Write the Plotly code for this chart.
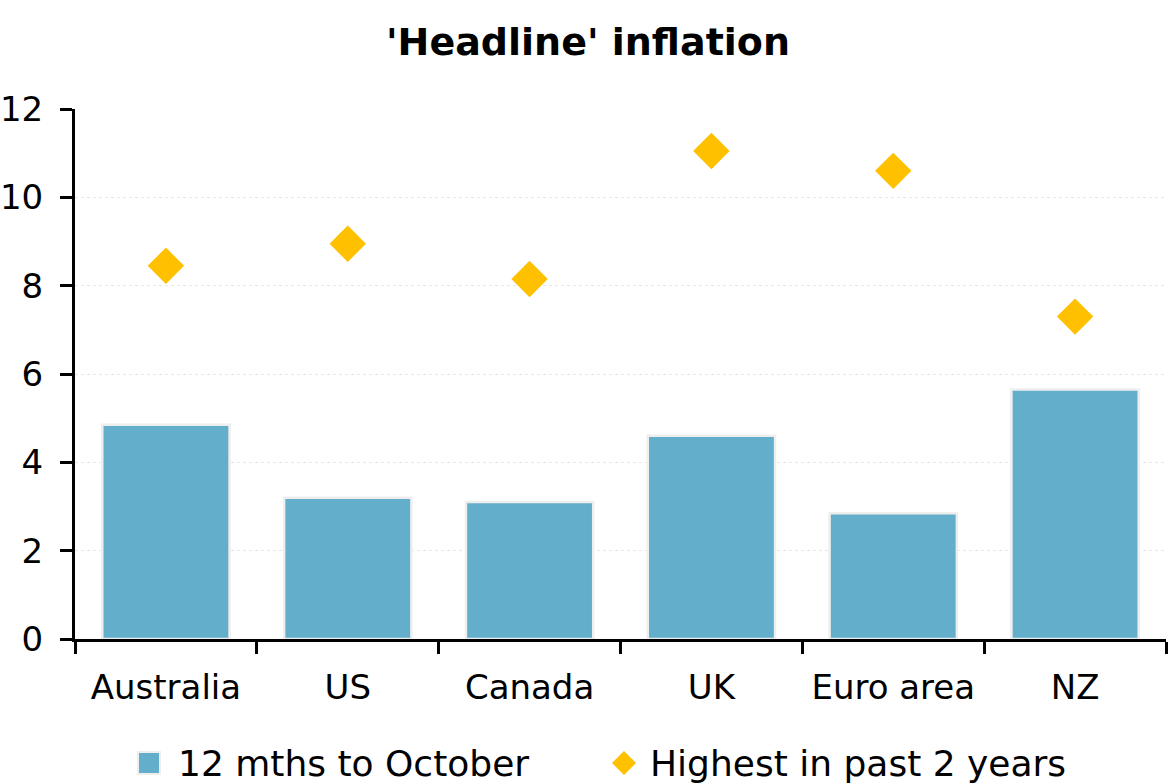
import plotly.graph_objects as go

countries = ["Australia", "US", "Canada", "UK", "Euro area", "NZ"]
latest_12m = [4.85, 3.2, 3.1, 4.6, 2.85, 5.65]
peak_2y = [8.45, 8.95, 8.15, 11.05, 10.6, 7.3]
y_ticks = [0, 2, 4, 6, 8, 10, 12]
series_names = ["12 mths to October", "Highest in past 2 years"]

FONT = "DejaVu Sans"
BAR_COLOR = "#62AECB"
DIAMOND_COLOR = "#FFC000"

W, H = 1176, 784
L, R, T, B = 75, 10, 109, 145
PW, PH = W - L - R, H - T - B


def px_x(px):
    return (px - L) / PW


def px_y(py):
    return (H - B - py) / PH


fig = go.Figure()
fig.add_trace(go.Bar(
    x=countries, y=latest_12m, name=series_names[0], showlegend=False,
    marker=dict(color=BAR_COLOR, line=dict(color="#EEEEEE", width=2.5)),
    width=0.7,
))
fig.add_trace(go.Scatter(
    x=countries, y=peak_2y, name=series_names[1], mode="markers",
    showlegend=False,
    marker=dict(symbol="diamond", color=DIAMOND_COLOR, size=28),
))

# manual legend (symbols + labels)
ly = 763
shapes = [
    dict(type="rect", xref="paper", yref="paper",
         x0=px_x(138), x1=px_x(160), y0=px_y(774), y1=px_y(752),
         fillcolor=BAR_COLOR, line=dict(color="#EEEEEE", width=2)),
    dict(type="path", xref="paper", yref="paper",
         path=(f"M {px_x(612)} {px_y(ly)} L {px_x(624)} {px_y(ly - 12)} "
               f"L {px_x(636)} {px_y(ly)} L {px_x(624)} {px_y(ly + 12)} Z"),
         fillcolor=DIAMOND_COLOR, line=dict(width=0)),
]
annotations = [
    dict(text=series_names[0], xref="paper", yref="paper", x=px_x(176), y=px_y(ly),
         xanchor="left", yanchor="middle", showarrow=False,
         font=dict(family=FONT, size=36, color="black")),
    dict(text=series_names[1], xref="paper", yref="paper", x=px_x(648), y=px_y(ly),
         xanchor="left", yanchor="middle", showarrow=False,
         font=dict(family=FONT, size=36, color="black")),
]

fig.update_layout(
    width=W, height=H,
    paper_bgcolor="white", plot_bgcolor="white",
    margin=dict(l=L, r=R, t=T, b=B, autoexpand=False),
    title=dict(text="<b>'Headline' inflation</b>", x=0.5, xanchor="center",
               y=0.947, yanchor="middle",
               font=dict(family=FONT, size=38, color="black")),
    font=dict(family=FONT, size=34, color="black"),
    showlegend=False,
    shapes=shapes,
    annotations=annotations,
    bargap=0.3,
)
fig.update_xaxes(
    type="category", showline=True, linecolor="black", linewidth=3,
    ticks="outside", tickson="boundaries", ticklen=12, tickwidth=2.5, tickcolor="black",
    showgrid=False, tickfont=dict(size=34), ticklabelstandoff=16, automargin=False,
)
fig.update_yaxes(
    range=[0, 12], tickvals=y_ticks, showline=True, linecolor="black", linewidth=3,
    ticks="outside", ticklen=12, tickwidth=2.5, tickcolor="black",
    showgrid=True, gridcolor="#E6E6E6", gridwidth=1, griddash="dot",
    zeroline=False, tickfont=dict(size=34), ticklabelstandoff=10, automargin=False,
)

fig.write_html("out.html")
